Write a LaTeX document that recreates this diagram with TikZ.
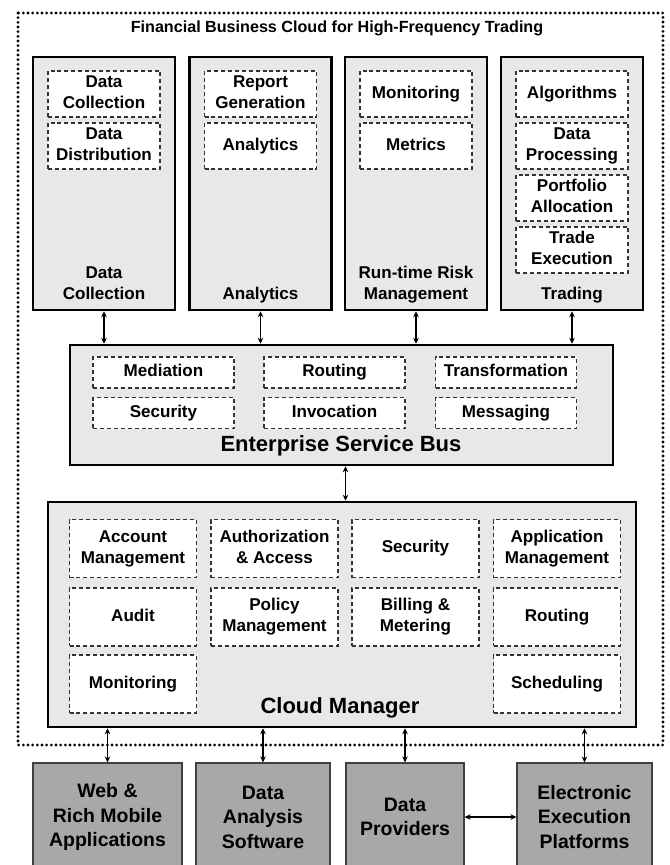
\documentclass[tikz,border=0pt]{standalone}
\usepackage{fontspec}
\setmainfont{Liberation Sans}
\usetikzlibrary{arrows.meta}
\definecolor{panelgray}{RGB}{232,232,232}
\definecolor{extgray}{RGB}{168,168,168}

\begin{document}
\begin{tikzpicture}[x=0.75pt,y=-0.75pt,
  >={Stealth[length=4.5pt,width=4.2pt]},
  cloudframe/.style={line width=2.3pt,dash pattern=on 0pt off 3.5pt,line cap=round},
  layer/.style={draw,line width=1.9pt,fill=panelgray,inner sep=0pt},
  colbox/.style={layer,minimum width=106.5pt,minimum height=189.75pt},
  item/.style={draw=black!80,dash pattern=on 3pt off 2.2pt,line width=0.9pt,fill=white,
    align=center,inner sep=0pt,text depth=2.7pt,
    font=\bfseries\fontsize{12.8}{15.75}\selectfont},
  colitem/.style={item,minimum width=84pt,minimum height=34.5pt},
  esbitem/.style={item,minimum width=105.75pt,minimum height=23.25pt},
  cmitem/.style={item,minimum width=95.25pt,minimum height=43.5pt},
  collabel/.style={align=center,anchor=south,inner sep=0pt,text depth=0pt,
    font=\bfseries\fontsize{12.8}{15.75}\selectfont},
  biglabel/.style={inner sep=0pt,font=\bfseries\fontsize{16.5}{19}\selectfont},
  ext/.style={draw=black!75,line width=0.9pt,fill=extgray,align=center,
    minimum height=81pt,inner sep=0pt,font=\bfseries\fontsize{14.6}{18.4}\selectfont},
  link/.style={<->,line width=0.9pt}]
\clip (0,0) rectangle (669,865);

% the cloud
\draw[cloudframe] (18,13) rectangle (663,745);
\node[font=\bfseries\fontsize{12.1}{15}\selectfont] (cloud) at (337,28)
  {Financial Business Cloud for High-Frequency Trading};

% application columns
\node[colbox] (dcol) at (104,183.5) {};
\node[colbox] (acol) at (260.5,183.5) {};
\node[colbox] (rcol) at (416,183.5) {};
\node[colbox] (tcol) at (572,183.5) {};

\node[colitem] (dc1) at (104,94) {Data\\Collection};
\node[colitem] (dc2) at (104,146) {Data\\Distribution};
\node[collabel] (dctxt) at (104,300) {Data\\Collection};

\node[colitem] (an1) at (260.5,94) {Report\\Generation};
\node[colitem] (an2) at (260.5,146) {Analytics};
\node[collabel] (antxt) at (260.5,300) {Analytics};

\node[colitem] (rk1) at (416,94) {Monitoring};
\node[colitem] (rk2) at (416,146) {Metrics};
\node[collabel] (rktxt) at (416,300) {Run-time Risk\\Management};

\node[colitem] (tr1) at (572,94) {Algorithms};
\node[colitem] (tr2) at (572,146) {Data\\Processing};
\node[colitem] (tr3) at (572,198) {Portfolio\\Allocation};
\node[colitem] (tr4) at (572,250) {Trade\\Execution};
\node[collabel] (trtxt) at (572,300) {Trading};

% service bus
\node[layer,minimum width=407.25pt,minimum height=90pt] (esb) at (341.5,405) {};
\node[esbitem] (med) at (163.5,372.5) {Mediation};
\node[esbitem] (rout) at (334.5,372.5) {Routing};
\node[esbitem] (trans) at (506,372.5) {Transformation};
\node[esbitem] (sec) at (163.5,413) {Security};
\node[esbitem] (inv) at (334.5,413) {Invocation};
\node[esbitem] (msg) at (506,413) {Messaging};
\node[biglabel] (esbtxt) at (341,446) {Enterprise Service Bus};

% cloud manager
\node[layer,minimum width=441pt,minimum height=168.75pt] (cm) at (342,614.5) {};
\node[cmitem] (acc) at (133,548.5) {Account\\Management};
\node[cmitem] (auth) at (274.5,548.5) {Authorization\\\& Access};
\node[cmitem] (csec) at (415.5,548.5) {Security};
\node[cmitem] (app) at (557,548.5) {Application\\Management};
\node[cmitem] (aud) at (133,617) {Audit};
\node[cmitem] (pol) at (274.5,617) {Policy\\Management};
\node[cmitem] (bill) at (415.5,617) {Billing \&\\Metering};
\node[cmitem] (croute) at (557,617) {Routing};
\node[cmitem] (mon) at (133,684) {Monitoring};
\node[cmitem] (sched) at (557,684) {Scheduling};
\node[biglabel] (cmtxt) at (340,708) {Cloud Manager};

% outside the cloud
\node[ext,minimum width=111.75pt] (web) at (107.5,817) {Web \&\\Rich Mobile\\Applications};
\node[ext,minimum width=100.5pt] (soft) at (263,817) {Data\\Analysis\\Software};
\node[ext,minimum width=88.5pt] (prov) at (405,817) {Data\\Providers};
\node[ext,minimum width=101.25pt] (exec) at (584.5,817) {Electronic\\Execution\\Platforms};

% connections
\draw[link] (dcol.south) -- (dcol.south |- esb.north);
\draw[link] (acol.south) -- (acol.south |- esb.north);
\draw[link] (rcol.south) -- (rcol.south |- esb.north);
\draw[link] (tcol.south) -- (tcol.south |- esb.north);
\draw[link] ([xshift=3pt]esb.south) -- ([xshift=3pt]esb.south |- cm.north);
\draw[link] (web.north) -- (web.north |- cm.south);
\draw[link] (soft.north) -- (soft.north |- cm.south);
\draw[link] (prov.north) -- (prov.north |- cm.south);
\draw[link] (exec.north) -- (exec.north |- cm.south);
\draw[link] (prov.east) -- (exec.west);
\end{tikzpicture}
\end{document}
